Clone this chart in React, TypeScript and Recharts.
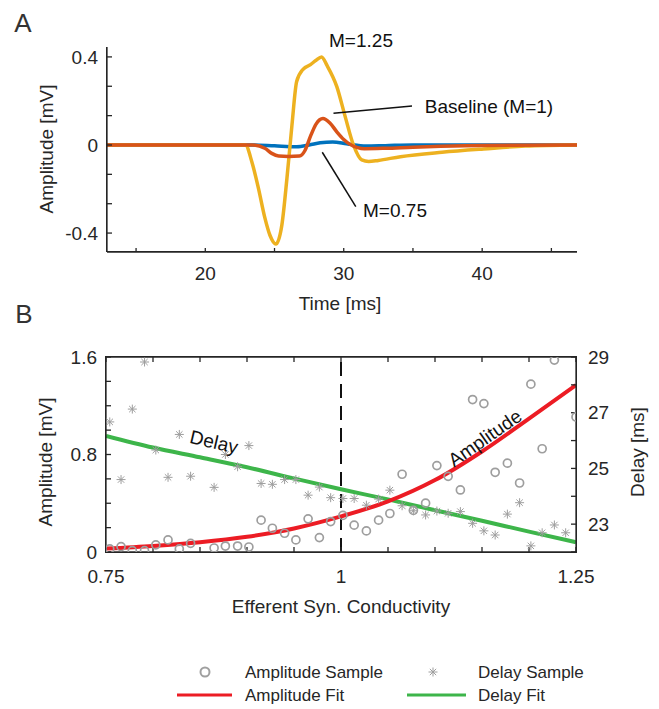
import React from "react";
import {
  LineChart,
  ComposedChart,
  Line,
  Scatter,
  XAxis,
  YAxis,
  ReferenceLine,
} from "recharts";

const FONT = '"Liberation Sans", Arial, Helvetica, sans-serif';
const AXIS = "#262626";

// Panel A: waveforms for three conductivity multipliers
const tYellow = [12.9, 18, 22, 22.9, 23.36, 23.84, 24.3, 24.67, 25.1, 25.53, 25.9, 26.26, 26.6, 27.08, 27.6, 28.0, 28.4, 28.8, 29.5, 30.1, 30.7, 31.3, 31.8, 32.5, 34.1, 37.1, 40.1, 43.1, 46.85];
const vYellow = [0, 0, 0, 0, -0.076, -0.197, -0.33, -0.41, -0.45, -0.364, -0.15, 0.09, 0.288, 0.345, 0.365, 0.385, 0.4, 0.36, 0.265, 0.13, 0.0, -0.068, -0.075, -0.07, -0.053, -0.033, -0.018, -0.005, 0];

const tRed = [12.9, 18, 23.4, 24.3, 24.8, 25.3, 26.0, 26.8, 27.2, 27.6, 28.0, 28.5, 29.0, 29.5, 30.0, 30.4, 31.0, 31.5, 33, 35, 37, 40, 46.85];
const vRed = [0, 0, 0, -0.015, -0.038, -0.05, -0.052, -0.05, -0.025, 0.04, 0.095, 0.12, 0.1, 0.06, 0.025, 0.005, -0.012, -0.017, -0.015, -0.01, -0.006, -0.002, 0];

const tBlue = [12.9, 18, 23.5, 25, 26.6, 27.5, 28.3, 29.2, 30.2, 31.6, 33, 35, 46.85];
const vBlue = [0, 0, 0, -0.004, -0.008, 0.0, 0.01, 0.014, 0.006, -0.005, -0.003, 0, 0];

const timeTicks = [15, 20, 25, 30, 35, 40, 45];
const timeLabels = [20, 30, 40];
const ampTicksA = [-0.4, -0.2667, -0.1333, 0, 0.1333, 0.2667, 0.4];
const ampLabelsA = [-0.4, 0, 0.4];
const timeDomain = [12.9, 46.85];
const ampDomainA = [-0.486, 0.445];

// Panel B: samples and fits vs efferent synaptic conductivity
const sampleX = [0.754, 0.766, 0.778, 0.791, 0.803, 0.816, 0.828, 0.84, 0.865, 0.877, 0.89, 0.902, 0.915, 0.927, 0.94, 0.952, 0.965, 0.977, 0.989, 1.002, 1.014, 1.027, 1.04, 1.052, 1.065, 1.077, 1.09, 1.102, 1.114, 1.127, 1.14, 1.152, 1.164, 1.177, 1.19, 1.202, 1.214, 1.227];
const ampSample = [0.025, 0.044, 0.011, 0.011, 0.058, 0.099, 0.025, 0.071, 0.033, 0.049, 0.049, 0.041, 0.261, 0.195, 0.154, 0.099, 0.272, 0.118, 0.25, 0.3, 0.22, 0.173, 0.261, 0.316, 0.638, 0.341, 0.401, 0.709, 0.621, 0.509, 1.251, 1.218, 0.654, 0.729, 0.566, 1.377, 0.847, 1.575];
const delaySample = [26.67, 24.6, 27.13, 28.82, 25.66, 24.68, 26.22, 24.72, 24.32, 25.5, 25.06, 25.82, 24.46, 24.43, 24.6, 24.6, 24.04, 24.33, 23.95, 23.92, 23.92, 23.68, 23.9, 24.22, 23.66, 23.48, 23.33, 23.47, 23.39, 23.45, 23.03, 22.76, 22.61, 23.36, 23.77, 22.22, 22.69, 22.97];
const extraAmpX = [1.25];
const extraAmp = [1.108];
const extraDelayX = [1.239];
const extraDelay = [22.69];

const fitX = [0.75, 0.8, 0.85, 0.9, 0.95, 1.0, 1.05, 1.1, 1.15, 1.2, 1.25];
const ampFit = [0.028, 0.05, 0.08, 0.125, 0.193, 0.292, 0.415, 0.59, 0.825, 1.095, 1.37];
const delayFit = [26.17, 25.75, 25.4, 25.04, 24.64, 24.25, 23.89, 23.5, 23.12, 22.73, 22.35];

const condTicks = [0.75, 0.8, 0.85, 0.9, 0.95, 1, 1.05, 1.1, 1.15, 1.2, 1.25];
const condLabels = [0.75, 1, 1.25];
const ampTicksB = [0, 0.2, 0.4, 0.6, 0.8, 1.0, 1.2, 1.4, 1.6];
const ampLabelsB = [0, 0.8, 1.6];
const delayTicks = [22, 23, 24, 25, 26, 27, 28, 29];
const delayLabels = [23, 25, 27, 29];
const condDomain = [0.75, 1.25];
const ampDomainB = [0, 1.6];
const delayDomain = [22, 29];

const pairs = (xs: number[], ys: number[], kx = "x", ky = "y") =>
  xs.map((x, i) => ({ [kx]: x, [ky]: ys[i] }));

const waveYellow = pairs(tYellow, vYellow, "t", "v");
const waveRed = pairs(tRed, vRed, "t", "v");
const waveBlue = pairs(tBlue, vBlue, "t", "v");
const ampPts = pairs([...sampleX, ...extraAmpX], [...ampSample, ...extraAmp]);
const delayPts = pairs([...sampleX, ...extraDelayX], [...delaySample, ...extraDelay]);
const ampFitPts = pairs(fitX, ampFit);
const delayFitPts = pairs(fitX, delayFit);

// only some ticks carry a label
const labelOnly = (labels: number[]) => (v: number) => {
  const lab = labels.find((l) => Math.abs(l - v) < 1e-6);
  return lab === undefined ? "" : String(lab);
};

const tickText = { fill: AXIS, fontSize: 19, fontFamily: FONT };

// inward ticks through a negative tickSize
const axisStyle = {
  stroke: AXIS,
  axisLine: { stroke: AXIS, strokeWidth: 1.3 },
  tickLine: { stroke: AXIS, strokeWidth: 1.3 },
  tickSize: -5,
  interval: 0 as const,
  allowDataOverflow: true,
  type: "number" as const,
};

const Circle = (p: any) => (
  <circle cx={p.cx} cy={p.cy} r={4} fill="none" stroke="#9e9e9e" strokeWidth={1.7} />
);

const Asterisk = (p: any) => {
  const s = 4.5;
  const d = s * 0.7071;
  const { cx, cy } = p;
  return (
    <g stroke="#9e9e9e" strokeWidth={1}>
      <line x1={cx - s} y1={cy} x2={cx + s} y2={cy} />
      <line x1={cx} y1={cy - s} x2={cx} y2={cy + s} />
      <line x1={cx - d} y1={cy - d} x2={cx + d} y2={cy + d} />
      <line x1={cx - d} y1={cy + d} x2={cx + d} y2={cy - d} />
    </g>
  );
};

const Txt = ({
  x,
  y,
  size = 19,
  rotate = 0,
  color = AXIS,
  children,
}: {
  x: number;
  y: number;
  size?: number;
  rotate?: number;
  color?: string;
  children: React.ReactNode;
}) => (
  <div
    style={{
      position: "absolute",
      left: x,
      top: y,
      transform: `translate(-50%, -50%) rotate(${rotate}deg)`,
      fontFamily: FONT,
      fontSize: size,
      lineHeight: 1,
      color,
      whiteSpace: "nowrap",
    }}
  >
    {children}
  </div>
);

export default function App() {
  return (
    <div style={{ position: "absolute", left: 0, top: 0, width: 659, height: 709, background: "#fff" }}>
      {/* plot frames under the charts */}
      <div style={{ position: "absolute", left: 106, top: 47, width: 470, height: 204, borderLeft: `1px solid ${AXIS}`, borderBottom: `1px solid ${AXIS}` }} />
      <div style={{ position: "absolute", left: 105, top: 356, width: 470, height: 195, border: `1px solid ${AXIS}` }} />

      {/* Panel A */}
      <div style={{ position: "absolute", left: 0, top: 0 }}>
        <LineChart width={659} height={320} margin={{ top: 47, right: 82, bottom: 28, left: 0 }}>
          <XAxis
            {...axisStyle}
            dataKey="t"
            domain={timeDomain}
            ticks={timeTicks}
            height={40}
            tickSize={-4}
            tickMargin={19}
            tick={tickText}
            tickFormatter={labelOnly(timeLabels)}
          />
          <YAxis
            {...axisStyle}
            domain={ampDomainA}
            ticks={ampTicksA}
            width={107}
            tickMargin={14}
            tick={tickText}
            tickFormatter={labelOnly(ampLabelsA)}
          />
          <Line data={waveBlue} dataKey="v" type="monotone" stroke="#0072BD" strokeWidth={3.5} dot={false} activeDot={false} isAnimationActive={false} />
          <Line data={waveYellow} dataKey="v" type="monotone" stroke="#EDB120" strokeWidth={3.5} dot={false} activeDot={false} isAnimationActive={false} />
          <Line data={waveRed} dataKey="v" type="monotone" stroke="#D95319" strokeWidth={3.5} dot={false} activeDot={false} isAnimationActive={false} />
          <ReferenceLine segment={[{ x: 34.93, y: 0.177 }, { x: 29.26, y: 0.144 }]} stroke="#111" strokeWidth={1.5} ifOverflow="visible" />
          <ReferenceLine segment={[{ x: 30.87, y: -0.28 }, { x: 28.45, y: -0.033 }]} stroke="#111" strokeWidth={1.5} ifOverflow="visible" />
        </LineChart>
      </div>

      {/* Panel B */}
      <div style={{ position: "absolute", left: 0, top: 320 }}>
        <ComposedChart width={659} height={290} margin={{ top: 36, right: 0, bottom: 18, left: 0 }}>
          <XAxis
            {...axisStyle}
            xAxisId="bottom"
            dataKey="x"
            domain={condDomain}
            ticks={condTicks}
            height={40}
            tickMargin={23}
            tick={tickText}
            tickFormatter={labelOnly(condLabels)}
          />
          <XAxis
            {...axisStyle}
            xAxisId="top"
            orientation="top"
            dataKey="x"
            domain={condDomain}
            ticks={condTicks}
            height={1}
            tick={tickText}
            tickFormatter={() => ""}
          />
          <YAxis
            {...axisStyle}
            yAxisId="amp"
            domain={ampDomainB}
            ticks={ampTicksB}
            width={106}
            tickMargin={14}
            tick={tickText}
            tickFormatter={labelOnly(ampLabelsB)}
          />
          <YAxis
            {...axisStyle}
            yAxisId="delay"
            orientation="right"
            domain={delayDomain}
            ticks={delayTicks}
            width={83}
            tickMargin={17}
            tick={tickText}
            tickFormatter={labelOnly(delayLabels)}
          />
          <ReferenceLine xAxisId="bottom" yAxisId="amp" x={1} stroke="#111" strokeWidth={2} strokeDasharray="14 8" />
          <Scatter xAxisId="bottom" yAxisId="amp" data={ampPts} dataKey="y" shape={Circle} isAnimationActive={false} />
          <Scatter xAxisId="bottom" yAxisId="delay" data={delayPts} dataKey="y" shape={Asterisk} isAnimationActive={false} />
          <Line xAxisId="bottom" yAxisId="delay" data={delayFitPts} dataKey="y" type="monotone" stroke="#3DB54A" strokeWidth={4} dot={false} activeDot={false} isAnimationActive={false} />
          <Line xAxisId="bottom" yAxisId="amp" data={ampFitPts} dataKey="y" type="monotone" stroke="#EC1C24" strokeWidth={4} dot={false} activeDot={false} isAnimationActive={false} />
        </ComposedChart>
      </div>

      {/* text annotations */}
      <Txt x={23} y={23} size={26} color="#333">A</Txt>
      <Txt x={24} y={314} size={26} color="#333">B</Txt>
      <Txt x={46} y={149} rotate={-90}>Amplitude [mV]</Txt>
      <Txt x={340} y={303}>Time [ms]</Txt>
      <Txt x={361} y={40} color="#111">M=1.25</Txt>
      <Txt x={489} y={106} color="#111">Baseline (M=1)</Txt>
      <Txt x={395} y={210} color="#111">M=0.75</Txt>

      <Txt x={45} y={462} rotate={-90}>Amplitude [mV]</Txt>
      <Txt x={637} y={452} rotate={-90}>Delay [ms]</Txt>
      <Txt x={341} y={606}>Efferent Syn. Conductivity</Txt>
      <Txt x={214} y={442} rotate={13} color="#111">Delay</Txt>
      <Txt x={485} y={438} rotate={-35} color="#111">Amplitude</Txt>

      {/* legend */}
      <svg
        width={659}
        height={60}
        style={{ position: "absolute", left: 0, top: 649 }}
        fontFamily={FONT}
        fontSize={17}
      >
        <circle cx={205} cy={23} r={4.5} fill="none" stroke="#a0a0a0" strokeWidth={2} />
        <text x={245} y={23} dominantBaseline="central" fill={AXIS}>Amplitude Sample</text>
        {Asterisk({ cx: 433, cy: 23 })}
        <text x={478} y={23} dominantBaseline="central" fill={AXIS}>Delay Sample</text>
        <line x1={177} y1={46} x2={232} y2={46} stroke="#EC1C24" strokeWidth={3} />
        <text x={245} y={46} dominantBaseline="central" fill={AXIS}>Amplitude Fit</text>
        <line x1={407} y1={46} x2={466} y2={46} stroke="#3DB54A" strokeWidth={3} />
        <text x={478} y={46} dominantBaseline="central" fill={AXIS}>Delay Fit</text>
      </svg>
    </div>
  );
}
